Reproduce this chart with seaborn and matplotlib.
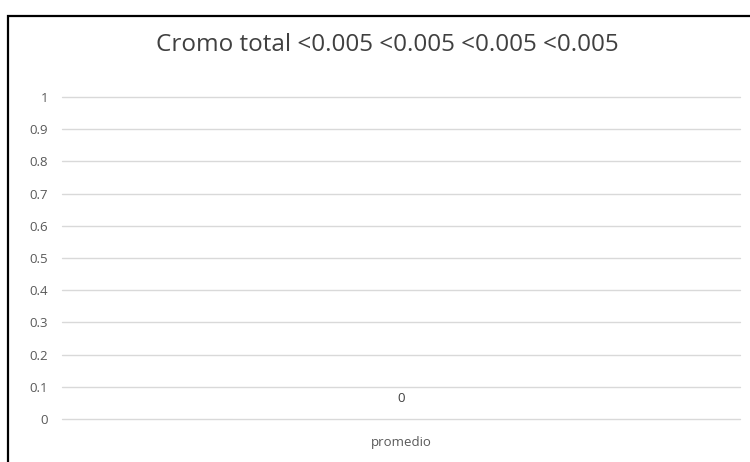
import numpy as np
import pandas as pd
import matplotlib.pyplot as plt
import seaborn as sns
from matplotlib.patches import Rectangle

categories = ["promedio"]
values = [0]
title = "Cromo total <0.005 <0.005 <0.005 <0.005"

df = pd.DataFrame({"cat": categories, "val": values})

sns.set_style("white")
plt.rcParams["font.family"] = ["Open Sans", "DejaVu Sans"]

fig = plt.figure(figsize=(7.5, 4.62), dpi=100)
ax = fig.add_axes([0.083, 0.093, 0.904, 0.697])

sns.barplot(data=df, x="cat", y="val", color="#4472c4", width=0.5, ax=ax)
ax.bar_label(ax.containers[0], labels=[str(v) for v in values], padding=10,
             fontsize=9.5, color="#404040")

ax.set_ylim(0, 1)
ax.set_yticks(np.arange(0, 1.01, 0.1))
ax.set_yticklabels(["0"] + [f"{t:.1f}" for t in np.arange(0.1, 0.95, 0.1)] + ["1"])
ax.yaxis.grid(True, color="#d9d9d9", linewidth=1)
for gl in ax.get_ygridlines():
    gl.set_clip_on(False)
ax.set_axisbelow(True)
for s in ax.spines.values():
    s.set_visible(False)
ax.tick_params(axis="y", length=0, labelsize=9.5, labelcolor="#595959", pad=10)
ax.tick_params(axis="x", length=0, labelsize=9.5, labelcolor="#595959", pad=12)
ax.set_xlabel("")
ax.set_ylabel("")

fig.text(0.516, 0.902, title, ha="center", va="center", fontsize=17.5, color="#404040")

# chart frame (top and left edges visible)
fig.patches.append(Rectangle((8 / 750, -0.1), 1.2, 1 - 16 / 462 + 0.1,
                             transform=fig.transFigure, fill=False,
                             edgecolor="black", linewidth=1.6))

fig.savefig("out.png", dpi=100)
